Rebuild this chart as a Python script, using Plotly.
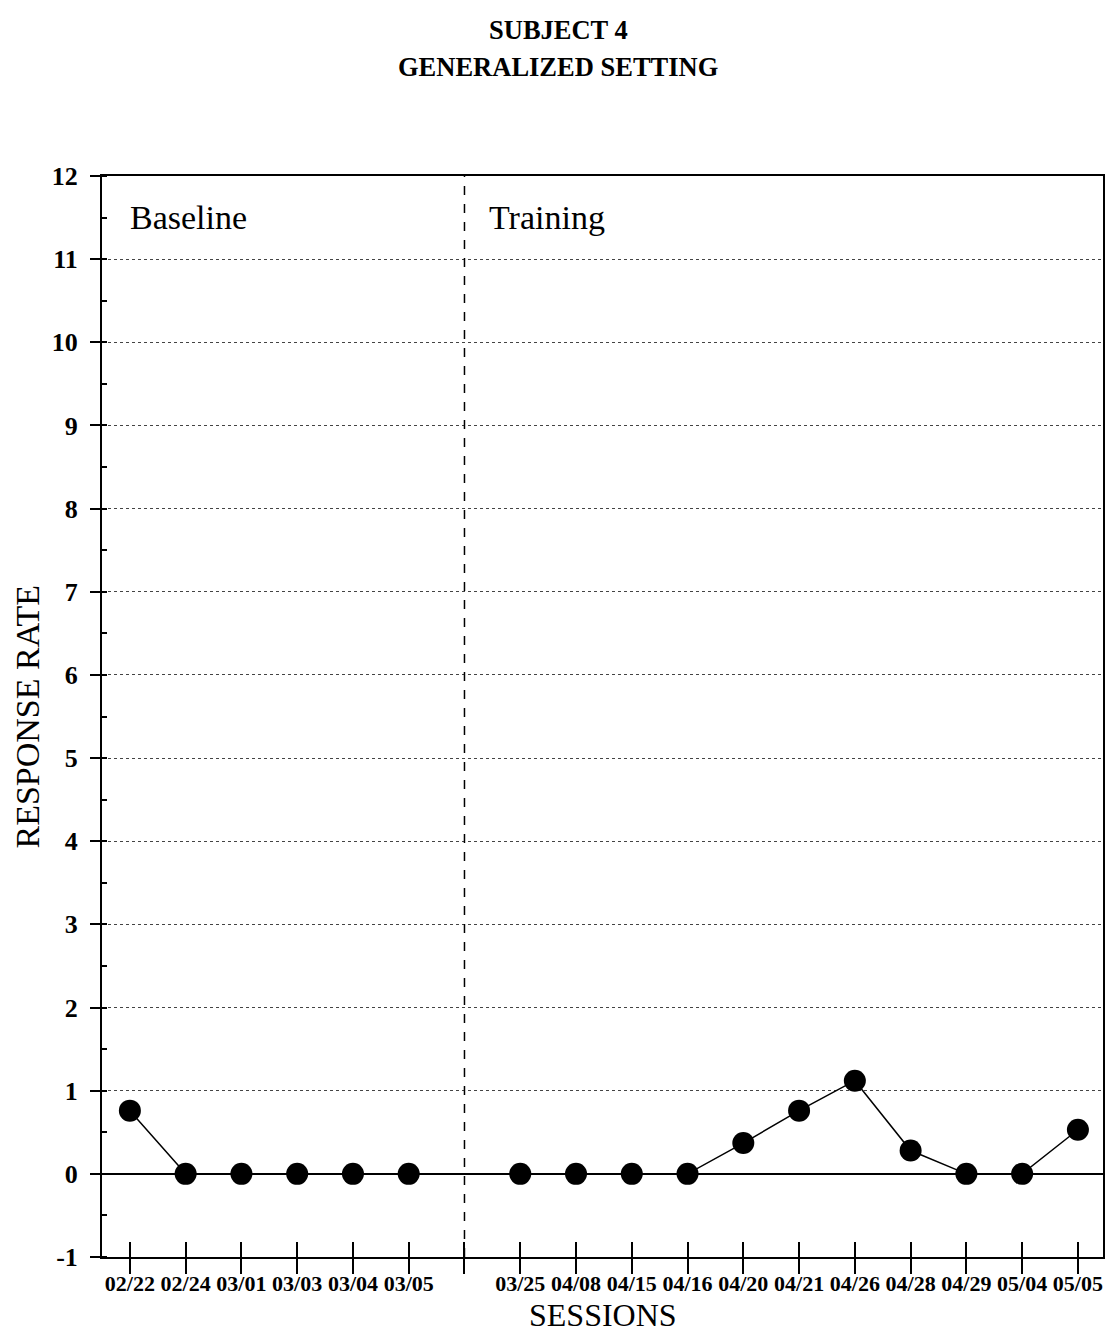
import plotly.graph_objects as go

# ---- data ----
session_labels = ["02/22", "02/24", "03/01", "03/03", "03/04", "03/05", "",
                  "03/25", "04/08", "04/15", "04/16", "04/20", "04/21",
                  "04/26", "04/28", "04/29", "05/04", "05/05"]
baseline_values = [0.76, 0.0, 0.0, 0.0, 0.0, 0.0]
training_values = [0.0, 0.0, 0.0, 0.0, 0.37, 0.76, 1.12, 0.28, 0.0, 0.0, 0.53]
y_ticks = list(range(-1, 13))

positions = list(range(len(session_labels)))
baseline_x = positions[:len(baseline_values)]
training_x = positions[len(baseline_values) + 1:]
phase_line_x = len(baseline_values)  # the empty slot between phases

serif = "Liberation Serif, Times New Roman, serif"

W, H = 1105, 1334
ML, MR, MT, MB = 102, 2, 176, 77
plot_h = H - MT - MB
plot_w = W - ML - MR

fig = go.Figure()
marker = dict(size=22, color="black")
line = dict(color="black", width=1.5)
fig.add_trace(go.Scatter(x=baseline_x, y=baseline_values, mode="lines+markers",
                         marker=marker, line=line, showlegend=False))
fig.add_trace(go.Scatter(x=training_x, y=training_values, mode="lines+markers",
                         marker=marker, line=line, showlegend=False))
# invisible trace so the overlay axis (inside tick halves) is drawn
fig.add_trace(go.Scatter(x=[positions[0]], y=[0], xaxis="x2", mode="markers",
                         marker=dict(opacity=0), showlegend=False, hoverinfo="skip"))

fig.add_shape(type="line", x0=phase_line_x, x1=phase_line_x, y0=-1, y1=12,
              xref="x", yref="y", line=dict(color="black", width=1.5, dash="dash"))

xrange = [-0.5, 17.45]
fig.update_layout(
    width=W, height=H,
    paper_bgcolor="white", plot_bgcolor="white",
    margin=dict(l=ML, r=MR, t=MT, b=MB, autoexpand=False),
    xaxis=dict(range=xrange, tickmode="array", tickvals=positions, ticktext=session_labels,
               ticks="outside", ticklen=15, tickwidth=1.5, tickcolor="black",
               showline=True, linecolor="black", linewidth=2, mirror=True,
               showgrid=False, zeroline=False, automargin=False,
               ticklabelstandoff=-9,
               tickfont=dict(family=serif, size=22, color="black", weight="bold")),
    xaxis2=dict(range=xrange, overlaying="x", side="bottom", tickmode="array",
                tickvals=positions, ticktext=[""] * len(positions),
                ticks="inside", ticklen=15, tickwidth=1.5, tickcolor="black",
                showline=False, showgrid=False, zeroline=False, showticklabels=False,
                automargin=False),
    yaxis=dict(range=[-1, 12], tickmode="array", tickvals=y_ticks,
               ticktext=[str(v) for v in y_ticks],
               ticks="outside", ticklen=10, tickwidth=1.5, tickcolor="black",
               minor=dict(dtick=0.5, ticks="inside", ticklen=5, tickwidth=1.5,
                          tickcolor="black", showgrid=False),
               showline=True, linecolor="black", linewidth=2, mirror=True,
               showgrid=True, gridcolor="#444", gridwidth=1, griddash="dot",
               zeroline=True, zerolinecolor="black", zerolinewidth=1.5,
               ticklabelstandoff=7, automargin=False,
               tickfont=dict(family=serif, size=26, color="black", weight="bold")),
    annotations=[
        dict(text="<b>SUBJECT 4</b>", x=(558 - ML) / plot_w, y=1 + (MT - 30) / plot_h,
             xref="paper", yref="paper", yanchor="middle", showarrow=False,
             font=dict(family=serif, size=26.5, color="black")),
        dict(text="<b>GENERALIZED SETTING</b>", x=(558 - ML) / plot_w, y=1 + (MT - 67) / plot_h,
             xref="paper", yref="paper", yanchor="middle", showarrow=False,
             font=dict(family=serif, size=26.5, color="black")),
        dict(text="SESSIONS", x=0.5, y=-(1315 - (H - MB)) / plot_h,
             xref="paper", yref="paper", yanchor="middle", showarrow=False,
             font=dict(family=serif, size=32, color="black")),
        dict(text="RESPONSE RATE", x=-(ML - 27) / plot_w, y=0.5, textangle=-90,
             xref="paper", yref="paper", xanchor="center", yanchor="middle", showarrow=False,
             font=dict(family=serif, size=34, color="black")),
        dict(text="Baseline", x=-0.03, y=11.5, xref="x", yref="y", xanchor="left",
             showarrow=False, font=dict(family=serif, size=34, color="black")),
        dict(text="Training", x=6.4, y=11.5, xref="x", yref="y", xanchor="left",
             showarrow=False, font=dict(family=serif, size=34, color="black")),
    ],
)

fig.write_html("out.html", config={"displayModeBar": False},
               post_script="document.body.style.margin='0';document.body.style.overflow='hidden';")
